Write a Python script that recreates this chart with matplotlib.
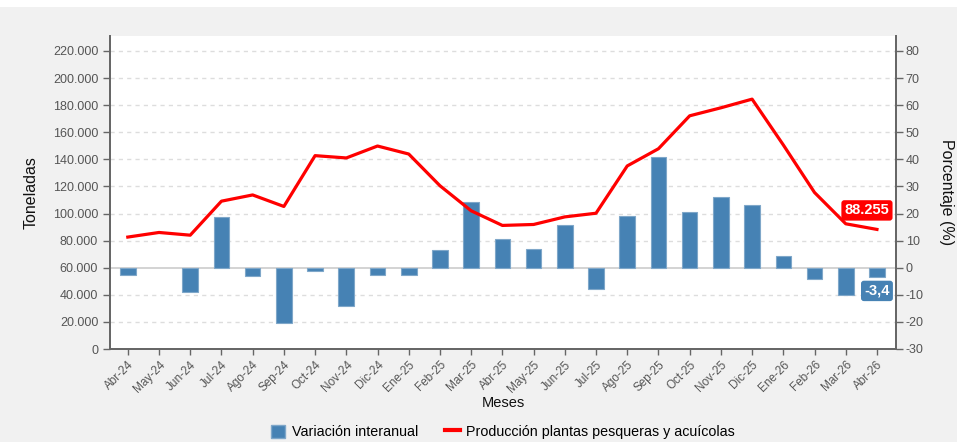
import matplotlib
matplotlib.use("Agg")
import matplotlib.pyplot as plt
from matplotlib.patches import Patch, Rectangle
from matplotlib.lines import Line2D
from matplotlib.ticker import FuncFormatter, FixedLocator

plt.rcParams['font.family'] = ['Liberation Sans', 'DejaVu Sans']

meses = ["Abr-24", "May-24", "Jun-24", "Jul-24", "Ago-24", "Sep-24", "Oct-24", "Nov-24",
         "Dic-24", "Ene-25", "Feb-25", "Mar-25", "Abr-25", "May-25", "Jun-25", "Jul-25",
         "Ago-25", "Sep-25", "Oct-25", "Nov-25", "Dic-25", "Ene-26", "Feb-26", "Mar-26", "Abr-26"]

produccion = [82600, 86000, 84000, 109100, 113700, 105200, 142700, 141000,
              149800, 143900, 120500, 102000, 91200, 91900, 97500, 100200,
              135100, 147800, 172100, 178000, 184400, 150600, 115500, 92400, 88255]

variacion = [-2.7, 0.0, -9.1, 18.7, -3.1, -20.4, -1.1, -14.0,
             -2.6, -2.7, 6.4, 24.2, 10.6, 7.0, 15.7, -7.7,
             19.0, 40.7, 20.5, 26.1, 23.1, 4.4, -4.2, -9.9, -3.4]

left_ticks = list(range(0, 220001, 20000))
right_ticks = list(range(-30, 81, 10))

W, H = 963, 442
fig = plt.figure(figsize=(W / 100, H / 100), dpi=100)
fig.patch.set_facecolor('white')
fig.patches.append(Rectangle((0, 0), 957 / W, 435 / H, transform=fig.transFigure,
                             facecolor='#f1f1f1', edgecolor='none', zorder=-10))

ax_left, ax_right, ax_bot, ax_top = 110, 896, 349, 36
ax = fig.add_axes([ax_left / W, 1 - ax_bot / H, (ax_right - ax_left) / W, (ax_bot - ax_top) / H])
ax2 = ax.twinx()

# ax2 (pct, bars) behind, ax (tons, line) on top
ax2.set_zorder(1)
ax.set_zorder(2)
ax.patch.set_visible(False)
ax2.patch.set_visible(True)
ax2.patch.set_facecolor('white')

x = list(range(len(meses)))
ytop_t = 231000
ax.set_ylim(0, ytop_t)
ax2.set_ylim(-30, (ytop_t - 60000) / 2000)
ax.set_xlim(-0.57, len(meses) - 1 + 0.61)

# grid on ax2
for t in right_ticks:
    if t == -30:
        continue
    if t == 0:
        ax2.axhline(0, color='#cccccc', lw=1.2, zorder=0.5)
    else:
        ax2.axhline(t, color='#dddddd', lw=1, ls=(0, (3, 3)), zorder=0.5)

edge_w = [0.8 if v != 0 else 0 for v in variacion]
ax2.bar(x, variacion, width=0.5, color='#4682b4', edgecolor='#7fa7c9', linewidth=edge_w, zorder=2)
ax.plot(x, produccion, color='#ff0000', lw=2.3, solid_joinstyle='round', zorder=3)

# labels
ax.annotate("88.255", xy=(x[-1], produccion[-1]), xytext=(-10, 19), textcoords='offset pixels',
            ha='center', va='center', color='white', fontsize=10.5, fontweight='bold',
            bbox=dict(boxstyle='round,pad=0.22,rounding_size=0.2', fc='#ff0000', ec='none'),
            zorder=5)
ax2.annotate("-3,4", xy=(x[-1], variacion[-1]), xytext=(0, -14), textcoords='offset pixels',
             ha='center', va='center', color='white', fontsize=10.5, fontweight='bold',
             bbox=dict(boxstyle='round,pad=0.22,rounding_size=0.2', fc='#4682b4', ec='none'),
             zorder=5)

# ticks
ax.yaxis.set_major_locator(FixedLocator(left_ticks))
ax.yaxis.set_major_formatter(FuncFormatter(lambda v, p: f"{int(v):,}".replace(",", ".")))
ax2.yaxis.set_major_locator(FixedLocator(right_ticks))
ax2.yaxis.set_major_formatter(FuncFormatter(lambda v, p: f"{int(v)}"))
ax.set_xticks(x)
ax.set_xticklabels(meses, rotation=45, ha='right', rotation_mode='anchor')

tick_col = '#555555'
ax.tick_params(axis='y', labelsize=9, colors='#666666', labelcolor=tick_col, length=5, width=1)
ax2.tick_params(axis='y', labelsize=9, colors='#666666', labelcolor=tick_col, length=5, width=1, pad=2)
ax.tick_params(axis='x', labelsize=8.5, colors='#666666', labelcolor=tick_col, length=4, width=1, pad=3)

for a in (ax, ax2):
    a.spines['top'].set_visible(False)
    for s in ('left', 'right', 'bottom'):
        a.spines[s].set_color('#666666')
        a.spines[s].set_linewidth(1.3)

ax.set_ylabel("Toneladas", fontsize=11.5, color='#111111', labelpad=10)
ax2.set_ylabel("Porcentaje (%)", fontsize=11.5, color='#111111', rotation=270, labelpad=22)
ax.set_xlabel("Meses", fontsize=10.5, color='#111111', labelpad=1)

handles = [Patch(facecolor='#4682b4', edgecolor='#7fa7c9', label='Variación interanual'),
           Line2D([0], [0], color='#ff0000', lw=3, label='Producción plantas pesqueras y acuícolas')]
fig.legend(handles=handles, loc='center', bbox_to_anchor=(503 / W, 1 - 432 / H), ncol=2,
           frameon=False, fontsize=10.3, handlelength=1.0, handleheight=1.0,
           handletextpad=0.45, columnspacing=1.9)

fig.savefig("out.png", dpi=100, facecolor=fig.get_facecolor())
